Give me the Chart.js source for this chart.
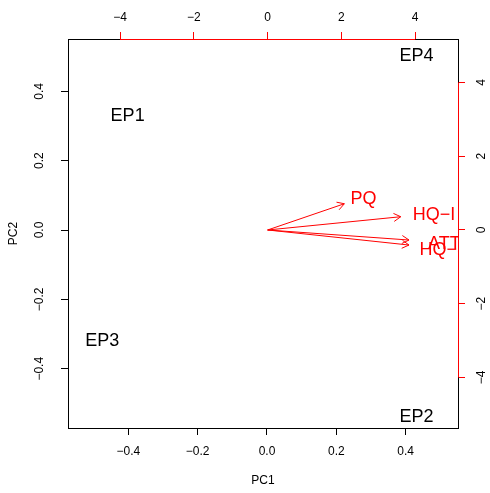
<!DOCTYPE html>
<html lang="en">
<head>
<meta charset="UTF-8">
<title>Biplot PC1 / PC2</title>
<script src="https://cdn.jsdelivr.net/npm/chart.js"></script>
<style>
  html, body { margin: 0; padding: 0; background: #fff; }
  #wrap { width: 490px; height: 493px; }
</style>
</head>
<body>
<div id="wrap"><canvas id="biplot" width="490" height="493"></canvas></div>
<script>
// scores of the observations (bottom / left scales)
const obsNames = ['EP1', 'EP2', 'EP3', 'EP4'];
const obsPC1 = [-0.402, 0.431, -0.475, 0.431];
const obsPC2 = [0.333, -0.534, -0.316, 0.506];

// loadings of the variables (top / right scales)
const varNames = ['PQ', 'HQ\u2212I', 'ATT', 'HQ\u2212S'];
const varPC1 = [2.60, 4.51, 4.79, 4.79];
const varPC2 = [0.89, 0.45, -0.34, -0.51];

// tick values
const scoreTicks = [-0.4, -0.2, 0, 0.2, 0.4];
const loadTicks = [-4, -2, 0, 2, 4];

const RED = '#ff0000';
const FONT = '"Liberation Sans", Arial, Helvetica, sans-serif';
const LABEL_SIZE = 18;
const ARROW_FRAC = 0.8; // biplot draws arrows to 0.8 of the loading, label at the loading

function fmt(v, d) {
    return v.toFixed(d).replace('-', '\u2212');
}

// centre text on its cap height, like R's text()
function label(ctx, s, x, y) {
    ctx.fillText(s, x, y + LABEL_SIZE * 0.36);
}

function axisOpts(pos, min, max, ticks, color) {
    return {
        type: 'linear',
        position: pos,
        min: min,
        max: max,
        afterBuildTicks: scale => { scale.ticks = ticks.map(v => ({ value: v })); },
        ticks: { display: false },
        border: { display: false },
        grid: { display: true, drawOnChartArea: false, drawTicks: true, tickLength: 7, color: color, lineWidth: 1 },
        title: { display: false }
    };
}

const biplotPlugin = {
    id: 'biplotExtras',
    afterDatasetsDraw(chart) {
        const ctx = chart.ctx;
        const a = chart.chartArea;
        const sx = chart.scales.x, sy = chart.scales.y;
        const lx = chart.scales.x2, ly = chart.scales.y2;

        ctx.save();
        ctx.beginPath();
        ctx.rect(a.left, a.top, a.right - a.left, a.bottom - a.top);
        ctx.clip();

        // observation labels
        ctx.fillStyle = '#000';
        ctx.font = LABEL_SIZE + 'px ' + FONT;
        ctx.textAlign = 'center';
        ctx.textBaseline = 'alphabetic';
        obsNames.forEach((n, i) => {
            label(ctx, n, sx.getPixelForValue(obsPC1[i]), sy.getPixelForValue(obsPC2[i]));
        });

        // arrow heads + variable labels
        ctx.strokeStyle = RED;
        ctx.fillStyle = RED;
        ctx.lineWidth = 1;
        const x0 = lx.getPixelForValue(0), y0 = ly.getPixelForValue(0);
        varNames.forEach((n, i) => {
            const tx = lx.getPixelForValue(varPC1[i] * ARROW_FRAC);
            const ty = ly.getPixelForValue(varPC2[i] * ARROW_FRAC);
            const ang = Math.atan2(ty - y0, tx - x0);
            const len = 8, spread = Math.PI / 6;
            ctx.beginPath();
            ctx.moveTo(tx - len * Math.cos(ang - spread), ty - len * Math.sin(ang - spread));
            ctx.lineTo(tx, ty);
            ctx.lineTo(tx - len * Math.cos(ang + spread), ty - len * Math.sin(ang + spread));
            ctx.stroke();
            label(ctx, n, lx.getPixelForValue(varPC1[i]), ly.getPixelForValue(varPC2[i]));
        });
        ctx.restore();
    },
    afterDraw(chart) {
        const ctx = chart.ctx;
        const a = chart.chartArea;
        const sx = chart.scales.x, sy = chart.scales.y;
        const lx = chart.scales.x2, ly = chart.scales.y2;

        ctx.save();
        // box
        ctx.strokeStyle = '#000';
        ctx.lineWidth = 1;
        ctx.strokeRect(Math.round(a.left) + 0.5, Math.round(a.top) + 0.5,
            Math.round(a.right - a.left), Math.round(a.bottom - a.top));

        // red axis lines of the loading scales
        ctx.strokeStyle = RED;
        ctx.beginPath();
        ctx.moveTo(lx.getPixelForValue(loadTicks[0]), Math.round(a.top) + 0.5);
        ctx.lineTo(lx.getPixelForValue(loadTicks[loadTicks.length - 1]), Math.round(a.top) + 0.5);
        ctx.moveTo(Math.round(a.right) + 0.5, ly.getPixelForValue(loadTicks[0]));
        ctx.lineTo(Math.round(a.right) + 0.5, ly.getPixelForValue(loadTicks[loadTicks.length - 1]));
        ctx.stroke();

        // tick labels
        ctx.font = '12px ' + FONT;
        ctx.textAlign = 'center';
        ctx.textBaseline = 'middle';
        ctx.fillStyle = '#000';
        scoreTicks.forEach(v => ctx.fillText(fmt(v, 1), sx.getPixelForValue(v), a.bottom + 24));
        loadTicks.forEach(v => ctx.fillText(fmt(v, 0), lx.getPixelForValue(v), a.top - 21));
        scoreTicks.forEach(v => {
            ctx.save();
            ctx.translate(a.left - 28, sy.getPixelForValue(v));
            ctx.rotate(-Math.PI / 2);
            ctx.fillText(fmt(v, 1), 0, 0);
            ctx.restore();
        });
        loadTicks.forEach(v => {
            ctx.save();
            ctx.translate(a.right + 24, ly.getPixelForValue(v));
            ctx.rotate(-Math.PI / 2);
            ctx.fillText(fmt(v, 0), 0, 0);
            ctx.restore();
        });

        // axis titles
        ctx.fillText('PC1', (a.left + a.right) / 2, a.bottom + 53);
        ctx.save();
        ctx.translate(a.left - 54, (a.top + a.bottom) / 2);
        ctx.rotate(-Math.PI / 2);
        ctx.fillText('PC2', 0, 0);
        ctx.restore();
        ctx.restore();
    }
};

const datasets = [{
    label: 'scores',
    data: obsPC1.map((v, i) => ({ x: v, y: obsPC2[i] })),
    xAxisID: 'x',
    yAxisID: 'y',
    pointRadius: 0,
    showLine: false
}].concat(varNames.map((n, i) => ({
    label: n,
    data: [{ x: 0, y: 0 }, { x: varPC1[i] * ARROW_FRAC, y: varPC2[i] * ARROW_FRAC }],
    xAxisID: 'x2',
    yAxisID: 'y2',
    showLine: true,
    borderColor: RED,
    borderWidth: 1,
    pointRadius: 0,
    fill: false
})));

new Chart(document.getElementById('biplot').getContext('2d'), {
    type: 'scatter',
    data: { datasets: datasets },
    options: {
        responsive: false,
        animation: false,
        layout: { padding: { left: 61, right: 25, top: 32, bottom: 58 } },
        plugins: { legend: { display: false }, tooltip: { enabled: false } },
        scales: {
            x: axisOpts('bottom', -0.574, 0.551, scoreTicks, '#000'),
            y: axisOpts('left', -0.571, 0.551, scoreTicks, '#000'),
            x2: axisOpts('top', -5.41, 5.16, loadTicks, RED),
            y2: axisOpts('right', -5.37, 5.18, loadTicks, RED)
        }
    },
    plugins: [biplotPlugin]
});
</script>
</body>
</html>
